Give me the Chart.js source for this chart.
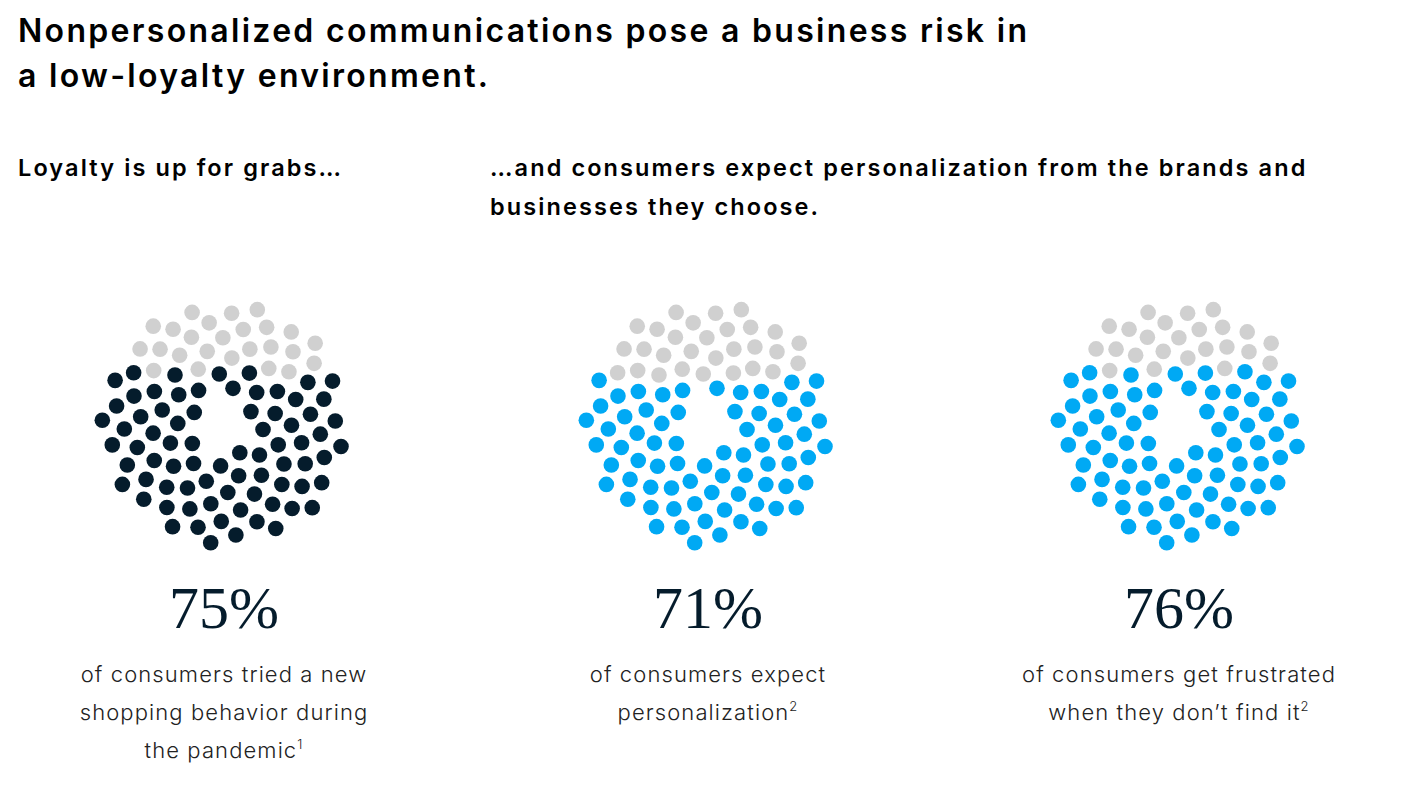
<!DOCTYPE html>
<html>
<head>
<meta charset="utf-8">
<script src="https://cdn.jsdelivr.net/npm/chart.js@4.4.0/dist/chart.umd.min.js"></script>
<style>
  body { margin: 0; background: #fff; width: 1422px; height: 793px; position: relative; overflow: hidden; font-family: Inter, "Noto Sans", sans-serif; color: #000; }
  .title { position: absolute; left: 18px; top: 8px; font-size: 32px; font-weight: 600; line-height: 45px; letter-spacing: 2.3px; white-space: nowrap; }
  .sub { position: absolute; font-size: 23.5px; font-weight: 600; line-height: 39px; letter-spacing: 2.1px; white-space: nowrap; }
  .dots { position: absolute; top: 273px; }
  .big { position: absolute; top: 573px; width: 360px; text-align: center; font-family: "Liberation Serif", "DejaVu Serif", serif; font-size: 60px; color: #051c2c; line-height: 70px; }
  .desc { position: absolute; top: 655px; width: 360px; text-align: center; font-size: 22px; font-weight: 300; line-height: 38px; color: #222; letter-spacing: 1.1px; }
  .desc sup { font-size: 13px; line-height: 0; vertical-align: 9px; }
</style>
</head>
<body>
<div class="title">Nonpersonalized communications pose a business risk in<br>a low-loyalty environment.</div>
<div class="sub" style="left:18px; top:148px;">Loyalty is up for grabs…</div>
<div class="sub" style="left:490px; top:148px;">…and consumers expect personalization from the brands and<br>businesses they choose.</div>

<canvas id="c0" class="dots" width="300" height="300" style="left:74px;"></canvas>
<canvas id="c1" class="dots" width="300" height="300" style="left:558px;"></canvas>
<canvas id="c2" class="dots" width="300" height="300" style="left:1030px;"></canvas>

<div class="big" style="left:44px;">75%</div>
<div class="big" style="left:528px;">71%</div>
<div class="big" style="left:999px;">76%</div>

<div class="desc" style="left:44px;">of consumers tried a new<br>shopping behavior during<br>the pandemic<sup>1</sup></div>
<div class="desc" style="left:528px;">of consumers expect<br>personalization<sup>2</sup></div>
<div class="desc" style="left:999px;">of consumers get frustrated<br>when they don’t find it<sup>2</sup></div>

<script>
// share of consumers, out of 100 dots
var values = [75, 71, 76];
var labels = ['Tried a new shopping behavior', 'Expect personalization', 'Frustrated without it'];
var fillColors = ['#051c2c', '#00a9f4', '#00a9f4'];
var restColor = '#d0d0d0';
var totalDots = 100;

// sunflower layout for the 100 dots (layout only, not data)
function spiral(n) {
	var pts = [];
	var golden = Math.PI * (3 - Math.sqrt(5));
	var k = 6;
	var c = 129 / Math.sqrt(n - 1 + k);
	for (var i = 0; i < n; i++) {
		var r = c * Math.sqrt(i + k);
		var a = i * golden + 0.4;
		pts.push({x: r * Math.cos(a), y: r * Math.sin(a)});
	}
	// fill from the bottom up
	pts.sort(function(p, q) { return p.y - q.y; });
	return pts;
}

for (var j = 0; j < values.length; j++) {
	var pts = spiral(totalDots);
	var filled = pts.slice(0, values[j]);
	var rest = pts.slice(values[j]);

	new Chart(document.getElementById('c' + j), {
		type: 'scatter',
		data: {
			datasets: [
				{
					label: labels[j],
					data: filled,
					backgroundColor: fillColors[j],
					borderWidth: 0,
					pointRadius: 7.8
				},
				{
					label: 'Other',
					data: rest,
					backgroundColor: restColor,
					borderWidth: 0,
					pointRadius: 7.8
				}
			]
		},
		options: {
			responsive: false,
			animation: false,
			layout: { padding: 0 },
			plugins: { legend: { display: false }, tooltip: { enabled: false } },
			scales: {
				x: { display: false, min: -150, max: 150 },
				y: { display: false, min: -150, max: 150 }
			}
		}
	});
}
</script>
</body>
</html>
